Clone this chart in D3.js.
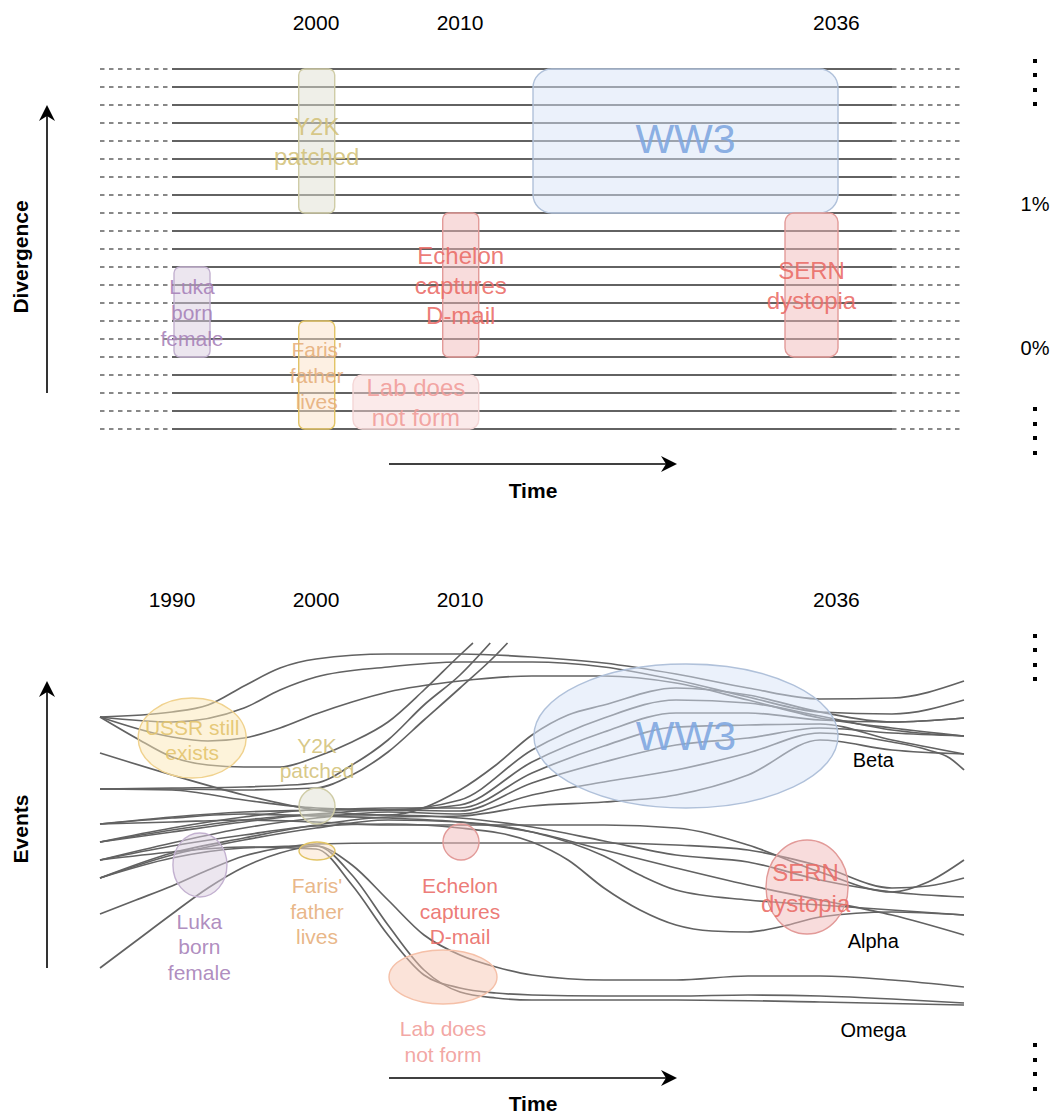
<!DOCTYPE html>
<html>
<head>
<meta charset="utf-8">
<script src="https://cdn.jsdelivr.net/npm/d3@7/dist/d3.min.js"></script>
<style>
  body { margin: 0; background: #fff; }
  text { font-family: "Liberation Sans", Arial, Helvetica, sans-serif; }
</style>
</head>
<body>
<script>

// ---- data ----
var topYears = [2000, 2010, 2036];
var bottomYears = [1990, 2000, 2010, 2036];
var timelines = d3.range(21);               // horizontal world lines, top panel
var percentLabels = [["1%", 7.5], ["0%", 15.5]];   // [label, between-line index]
var solidSpan = [1990, 2040];               // solid part of world lines

// top panel events: label lines, year span, world-line span
var topEvents = [
  {id: "y2k",     text: ["Y2K", "patched"],               from: 1998.8,  to: 2001.3,  top: 0,  bottom: 8},
  {id: "ww3",     text: ["WW3"],                          from: 2015.07, to: 2036.25, top: 0,  bottom: 8},
  {id: "echelon", text: ["Echelon", "captures", "D-mail"], from: 2008.8,  to: 2011.3,  top: 8,  bottom: 16},
  {id: "sern",    text: ["SERN", "dystopia"],             from: 2032.57, to: 2036.25, top: 8,  bottom: 16},
  {id: "luka",    text: ["Luka", "born", "female"],       from: 1990.14, to: 1992.64, top: 11, bottom: 16},
  {id: "faris",   text: ["Faris'", "father", "lives"],    from: 1998.8,  to: 2001.3,  top: 14, bottom: 20},
  {id: "lab",     text: ["Lab does", "not form"],         from: 2002.57, to: 2011.3,  top: 17, bottom: 20}
];

// bottom panel events: ellipse centre (year, level) and radii (years, levels)
var bottomEvents = [
  {id: "ussr",    text: ["USSR still", "exists"],         year: 1991.4,  level: 262, ry: 3.75,  rl: 40, labelYear: 1991.4,  labelLevel: 260},
  {id: "y2k",     text: ["Y2K", "patched"],               year: 2000.07, level: 194, ry: 1.25,  rl: 18, labelYear: 2000.07, labelLevel: 242},
  {id: "faris",   text: ["Faris'", "father", "lives"],    year: 2000.07, level: 149, ry: 1.25,  rl: 9,  labelYear: 2000.07, labelLevel: 89},
  {id: "luka",    text: ["Luka", "born", "female"],       year: 1991.94, level: 135, ry: 1.875, rl: 32, labelYear: 1991.9,  labelLevel: 53.5},
  {id: "echelon", text: ["Echelon", "captures", "D-mail"], year: 2010.07, level: 158, ry: 1.25,  rl: 18, labelYear: 2010,    labelLevel: 89},
  {id: "lab",     text: ["Lab does", "not form"],         year: 2008.82, level: 23,  ry: 3.75,  rl: 27, labelYear: 2008.82, labelLevel: -41.5},
  {id: "ww3",     text: ["WW3"],                          year: 2025.69, level: 264, ry: 10.56, rl: 72, labelYear: 2025.69, labelLevel: 264},
  {id: "sern",    text: ["SERN", "dystopia"],             year: 2034.1,  level: 113, ry: 2.85,  rl: 47, labelYear: 2034.0,  labelLevel: 112.5}
];

var branchLabels = [["Beta", 2038.7, 240], ["Alpha", 2038.7, 59], ["Omega", 2038.7, -30]];

// world lines of the bottom panel: [year, level]
var worldLines = [
  // beta attractor
  [[1985,283],[1990,288],[1992.5,295],[1995,314],[1997.5,332],[2000,341],[2005,346],[2010,346],[2015,343],[2020,337],[2025,326],[2030,312],[2035,301],[2040,302],[2045,319]],
  [[1985,283],[1990,278],[1995,292],[1997.5,310],[2000,323],[2005,333],[2010,338],[2015,338],[2020,333],[2025,320],[2030,303],[2035,288],[2040,286],[2045,300]],
  [[1985,283],[1990,263],[1992.5,259],[1995,262],[1997.5,272],[2000,286],[2002.5,298],[2005,308],[2010,319],[2015,324],[2020,324],[2025,317],[2030,300],[2035,282],[2040,272],[2045,264]],
  [[1985,247],[1990,225],[1995,205],[2000,190],[2005,185],[2010,210],[2012.5,235],[2015,265],[2017.5,285],[2020,295],[2025,312],[2030,305],[2035,288],[2040,278],[2045,282]],
  [[1985,158],[1990,172],[1995,183],[2000,190],[2005,190],[2010,200],[2015,250],[2020,282],[2025,300],[2030,297],[2035,284],[2040,270],[2045,264]],
  [[1985,211],[1990,210],[1995,200],[2000,192],[2005,190],[2010,195],[2015,238],[2020,268],[2025,287],[2030,287],[2035,280],[2040,278],[2045,282]],
  [[1985,176],[1990,183],[1995,188],[2000,190],[2005,192],[2010,192],[2015,227],[2020,254],[2025,273],[2030,275],[2035,276],[2040,260],[2045,246]],
  [[1985,158],[1990,170],[1995,180],[2000,186],[2005,190],[2010,189],[2015,217],[2020,238],[2025,255],[2030,262],[2035,272],[2040,267],[2045,264]],
  [[1985,140],[1990,157],[1995,172],[2000,182],[2005,188],[2010,186],[2015,205],[2020,218],[2025,230],[2030,247],[2035,267],[2040,258],[2042.5,250],[2044,242],[2045,230]],
  [[1985,122],[1990,147],[1995,162],[2000,175],[2005,183],[2010,184],[2015,194],[2020,198],[2025,205],[2030,225],[2035,260],[2040,250],[2045,246]],
  // lines leaving the chart
  [[1985,283],[1987.5,262],[1990,243],[1992.5,235],[1995,233],[1997.5,233],[2000,243],[2002.5,258],[2005,278],[2007.5,310],[2010,345],[2010.9,357]],
  [[1985,211],[1990,212],[1995,213],[2000,217],[2002.5,235],[2005,260],[2007.5,295],[2010,325],[2012.1,357]],
  [[1985,211],[1990,211],[1995,210],[2000,212],[2002.5,225],[2005,248],[2007.5,280],[2010,312],[2012.5,345],[2013.3,357]],
  // alpha attractor
  [[1985,176],[1990,178],[1995,180],[2000,178],[2005,175],[2010,175],[2015,175],[2020,175],[2025,172],[2030,155],[2035,128],[2040,108],[2042.5,118],[2045,140]],
  [[1985,86],[1987.5,100],[1990,114],[1992.5,130],[1995,144],[1997.5,152],[2000,156],[2005,157],[2010,157],[2015,157],[2020,157],[2025,155],[2030,150],[2035,134],[2040,112],[2042.5,114],[2045,122]],
  [[1985,158],[1990,168],[1995,178],[2000,185],[2005,185],[2010,182],[2015,173],[2020,159],[2025,145],[2030,138],[2035,120],[2040,108],[2045,103]],
  [[1985,122],[1990,145],[1995,160],[2000,172],[2005,180],[2010,178],[2015,168],[2020,144],[2022.5,125],[2025,110],[2030,100],[2035,95],[2040,90],[2045,85]],
  [[1985,140],[1990,154],[1995,165],[2000,174],[2005,176],[2010,172],[2015,158],[2017.5,140],[2020,112],[2022.5,90],[2025,75],[2027.5,69],[2030,68],[2032.5,74],[2035,83],[2040,88],[2045,85]],
  [[1985,176],[1990,182],[1995,186],[2000,184],[2005,182],[2010,178],[2015,168],[2020,150],[2025,132],[2030,115],[2035,100],[2040,85],[2045,65]],
  // omega attractor
  [[1985,140],[1990,148],[1995,153],[2000,151],[2002.5,115],[2005,65],[2007.5,25],[2010,12],[2012.5,7],[2015,5],[2020,4],[2025,4],[2030,5],[2035,4],[2040,1],[2045,-3]],
  [[1985,32],[1987.5,59],[1990,86],[1992.5,112],[1995,133],[1997.5,147],[2000,154],[2002.5,125],[2005,75],[2007.5,30],[2010,8],[2012.5,2],[2015,0],[2025,0],[2035,-2],[2045,-5]],
  [[1985,122],[1990,142],[1995,152],[2000,154],[2002.5,135],[2005,100],[2007.5,65],[2010,45],[2012.5,33],[2015,25],[2020,20],[2025,20],[2030,24],[2035,24],[2040,20],[2045,13]]
];

// ---- styles ----
var palette = {
  y2k:     {fill: "#dfdfd1", stroke: "#cfcca6", text: "#d3c27a"},
  ww3:     {fill: "#d7e3f7", stroke: "#b0c1da", text: "#7ea6e0"},
  echelon: {fill: "#f1b9b9", stroke: "#e29a98", text: "#ea6b66"},
  sern:    {fill: "#f1b9b9", stroke: "#e29a98", text: "#ea6b66"},
  luka:    {fill: "#d9cddf", stroke: "#c3b1d0", text: "#a680b8"},
  faris:   {fill: "#fbe1c7", stroke: "#e2c465", text: "#e6ae7a"},
  lab:     {fill: "#f7d5d5", stroke: "#f4d6d6", text: "#f19c99"},
  ussr:    {fill: "#fbe7b5", stroke: "#f0d28e", text: "#e3c46c"},
  labB:    {fill: "#f7c7b3", stroke: "#f5c0a8", text: "#f19c99"}
};
var lineColor = "#626262";

var W = 1055, H = 1113;
var svg = d3.select("body").append("svg").attr("width", W).attr("height", H);

var x = d3.scaleLinear().domain([1985, 2045]).range([100, 964]);
var yTop = d3.scaleLinear().domain([0, 20]).range([69, 429]);
var yBot = d3.scaleLinear().domain([0, 360]).range([1000, 640]);

function label(g, lines, cx, cy, size, gap, color, opacity) {
  var t = g.append("text")
    .attr("text-anchor", "middle")
    .attr("font-size", size)
    .attr("fill", color)
    .attr("fill-opacity", opacity);
  lines.forEach(function(s, i) {
    t.append("tspan")
      .attr("x", cx)
      .attr("y", cy + (i - (lines.length - 1) / 2) * gap)
      .attr("dominant-baseline", "central")
      .text(s);
  });
}

function upArrow(g, ax, y0, y1) {
  g.append("line").attr("x1", ax).attr("x2", ax).attr("y1", y0).attr("y2", y1 + 10)
    .attr("stroke", "#000").attr("stroke-width", 1.6);
  g.append("path").attr("d", "M" + ax + "," + y1 + "L" + (ax + 8) + "," + (y1 + 16) +
      "L" + ax + "," + (y1 + 11) + "L" + (ax - 8) + "," + (y1 + 16) + "Z").attr("fill", "#000");
}
function rightArrow(g, ay, x0, x1) {
  g.append("line").attr("x1", x0).attr("x2", x1 - 10).attr("y1", ay).attr("y2", ay)
    .attr("stroke", "#000").attr("stroke-width", 1.6);
  g.append("path").attr("d", "M" + x1 + "," + ay + "L" + (x1 - 16) + "," + (ay - 8) +
      "L" + (x1 - 11) + "," + ay + "L" + (x1 - 16) + "," + (ay + 8) + "Z").attr("fill", "#000");
}
function dots(g, cx, ys) {
  g.selectAll(null).data(ys).enter().append("rect")
    .attr("x", cx - 2).attr("y", function(d) { return d - 2; })
    .attr("width", 4).attr("height", 4).attr("fill", "#000");
}

// ================= top panel =================
var topG = svg.append("g");

topG.selectAll(".yr").data(topYears).enter().append("text")
  .attr("x", function(d) { return x(d) + (d > 2030 ? 2 : 0); }).attr("y", 22)
  .attr("text-anchor", "middle").attr("dominant-baseline", "central")
  .attr("font-size", 21).text(function(d) { return d; });

topG.selectAll(".solid").data(timelines).enter().append("line")
  .attr("x1", x(solidSpan[0])).attr("x2", x(solidSpan[1]))
  .attr("y1", function(d) { return yTop(d); }).attr("y2", function(d) { return yTop(d); })
  .attr("stroke", lineColor).attr("stroke-width", 1.9);

[[1985, solidSpan[0]], [solidSpan[1], 2045]].forEach(function(span) {
  topG.selectAll(null).data(timelines).enter().append("line")
    .attr("x1", x(span[0])).attr("x2", x(span[1]))
    .attr("y1", function(d) { return yTop(d); }).attr("y2", function(d) { return yTop(d); })
    .attr("stroke", lineColor).attr("stroke-width", 1.5)
    .attr("stroke-dasharray", "4.5,4.5");
});

topEvents.forEach(function(e) {
  var c = palette[e.id];
  var x0 = x(e.from), x1 = x(e.to), y0 = yTop(e.top), y1 = yTop(e.bottom);
  var r = Math.min(x1 - x0, y1 - y0) * (e.id === "ww3" ? 0.13 : 0.17);
  topG.append("rect")
    .attr("x", x0).attr("y", y0).attr("width", x1 - x0).attr("height", y1 - y0)
    .attr("rx", r).attr("ry", r)
    .attr("fill", c.fill).attr("fill-opacity", 0.5)
    .attr("stroke", c.stroke).attr("stroke-width", 1.4);
});
topEvents.forEach(function(e) {
  var c = palette[e.id];
  var cx = (x(e.from) + x(e.to)) / 2, cy = (yTop(e.top) + yTop(e.bottom)) / 2;
  var small = (e.id === "luka" || e.id === "faris");
  var size = e.id === "ww3" ? 41 : (small ? 21 : 24);
  var gap = small ? 26 : 30;
  label(topG, e.text, cx, e.id === "ww3" ? cy - 2 : cy, size, gap, c.text, 0.9);
});

percentLabels.forEach(function(p) {
  topG.append("text").attr("x", 1035).attr("y", yTop(p[1]))
    .attr("text-anchor", "middle").attr("dominant-baseline", "central")
    .attr("font-size", 20).text(p[0]);
});
dots(topG, 1035, [61, 75, 90, 104]);
dots(topG, 1035, [409, 424, 438, 453]);

upArrow(topG, 47, 393, 105);
topG.append("text").attr("transform", "translate(20,257) rotate(-90)")
  .attr("text-anchor", "middle").attr("dominant-baseline", "central")
  .attr("font-size", 21).attr("font-weight", "bold").text("Divergence");
rightArrow(topG, 464, 389, 677);
topG.append("text").attr("x", 533).attr("y", 490)
  .attr("text-anchor", "middle").attr("dominant-baseline", "central")
  .attr("font-size", 21).attr("font-weight", "bold").text("Time");

// ================= bottom panel =================
var botG = svg.append("g");

botG.selectAll(".yr").data(bottomYears).enter().append("text")
  .attr("x", function(d) { return x(d) + (d > 2030 ? 2 : 0); }).attr("y", 599)
  .attr("text-anchor", "middle").attr("dominant-baseline", "central")
  .attr("font-size", 21).text(function(d) { return d; });

var line = d3.line()
  .x(function(d) { return x(d[0]); })
  .y(function(d) { return yBot(d[1]); })
  .curve(d3.curveMonotoneX);

botG.selectAll(".wl").data(worldLines).enter().append("path")
  .attr("d", line)
  .attr("fill", "none").attr("stroke", lineColor).attr("stroke-width", 1.7);

function ecol(id) { return palette[id === "lab" ? "labB" : id]; }

bottomEvents.forEach(function(e) {
  var c = ecol(e.id);
  botG.append("ellipse")
    .attr("cx", x(e.year)).attr("cy", yBot(e.level))
    .attr("rx", x(e.year + e.ry) - x(e.year))
    .attr("ry", yBot(e.level - e.rl) - yBot(e.level))
    .attr("fill", c.fill).attr("fill-opacity", 0.5)
    .attr("stroke", c.stroke).attr("stroke-width", 1.4);
});
bottomEvents.forEach(function(e) {
  var c = ecol(e.id);
  var size = e.id === "ww3" ? 41 : (e.id === "sern" ? 24 : 21);
  var gap = e.id === "sern" ? 31 : 25.5;
  label(botG, e.text, x(e.labelYear), yBot(e.labelLevel), size, gap, c.text, 0.9);
});

branchLabels.forEach(function(b) {
  botG.append("text").attr("x", x(b[1])).attr("y", yBot(b[2]))
    .attr("text-anchor", "middle").attr("dominant-baseline", "central")
    .attr("font-size", 20).text(b[0]);
});

dots(botG, 1035, [636, 650, 665, 679]);
dots(botG, 1035, [1045, 1060, 1074, 1089]);

upArrow(botG, 47, 968, 681);
botG.append("text").attr("transform", "translate(20,829) rotate(-90)")
  .attr("text-anchor", "middle").attr("dominant-baseline", "central")
  .attr("font-size", 21).attr("font-weight", "bold").text("Events");
rightArrow(botG, 1078, 389, 677);
botG.append("text").attr("x", 533).attr("y", 1103)
  .attr("text-anchor", "middle").attr("dominant-baseline", "central")
  .attr("font-size", 21).attr("font-weight", "bold").text("Time");

</script>
</body>
</html>
